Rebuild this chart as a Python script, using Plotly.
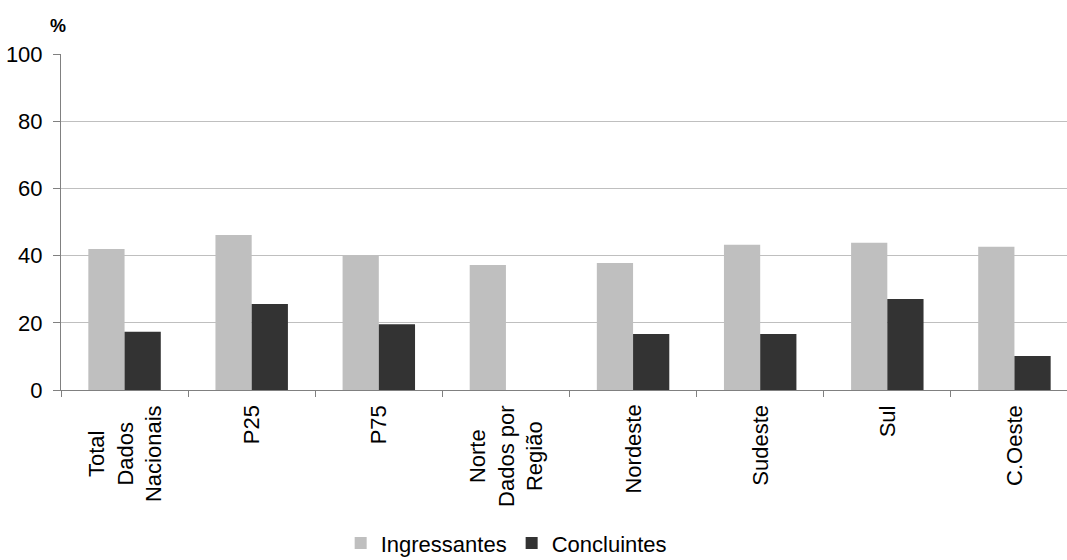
import plotly.graph_objects as go

categorias = ["Total<br>Dados<br>Nacionais", "P25", "P75", "Norte<br>Dados por<br>Região",
              "Nordeste", "Sudeste", "Sul", "C.Oeste"]
ingressantes = [42.0, 46.1, 40.2, 37.2, 37.8, 43.2, 43.8, 42.6]
concluintes = [17.3, 25.6, 19.6, None, 16.7, 16.7, 27.1, 10.1]

fonte = dict(family="Liberation Sans, Arial", size=22, color="black")

fig = go.Figure()
fig.add_trace(go.Bar(x=categorias, y=ingressantes, name="Ingressantes",
                     marker=dict(color="#BFBFBF", line=dict(width=0))))
fig.add_trace(go.Bar(x=categorias, y=concluintes, name="Concluintes",
                     marker=dict(color="#333333", line=dict(width=0))))

# rótulos do eixo x como anotações (linhas centradas, como no original)
rotulos = [dict(text=c, x=c, xref="x", y=0, yref="paper", xanchor="center", yanchor="top",
                yshift=-13, textangle=-90, align="center", showarrow=False,
                font=dict(size=22)) for c in categorias]

fig.update_layout(
    width=1078,
    height=560,
    autosize=False,
    barmode="group",
    bargap=0.43,
    bargroupgap=0,
    plot_bgcolor="white",
    paper_bgcolor="white",
    font=fonte,
    margin=dict(l=61, r=0, t=54, b=170, autoexpand=False),
    showlegend=True,
    legend=dict(orientation="h", x=0.275, xanchor="left", y=-0.456, yanchor="middle",
                font=dict(size=22), itemwidth=30, traceorder="normal"),
    annotations=[dict(text="<b>%</b>", xref="paper", yref="paper", x=0, y=1,
                      xanchor="center", yanchor="bottom", xshift=-3, yshift=16,
                      showarrow=False, font=dict(size=18))] + rotulos,
)
fig.update_yaxes(range=[0, 100], dtick=20, showgrid=True, gridcolor="#BFBFBF", gridwidth=1,
                 showline=True, linecolor="#808080", linewidth=1,
                 ticks="outside", ticklen=7, tickcolor="#808080", zeroline=False,
                 ticklabelstandoff=6, tickfont=dict(size=22))
fig.update_xaxes(showline=True, linecolor="#808080", linewidth=1, ticks="outside",
                 tickson="boundaries", ticklen=6, tickcolor="#808080",
                 showticklabels=False)

fig.write_html("out.html", config={"displayModeBar": False},
               post_script="document.body.style.margin='0';"
                           "document.body.style.overflow='hidden';")
